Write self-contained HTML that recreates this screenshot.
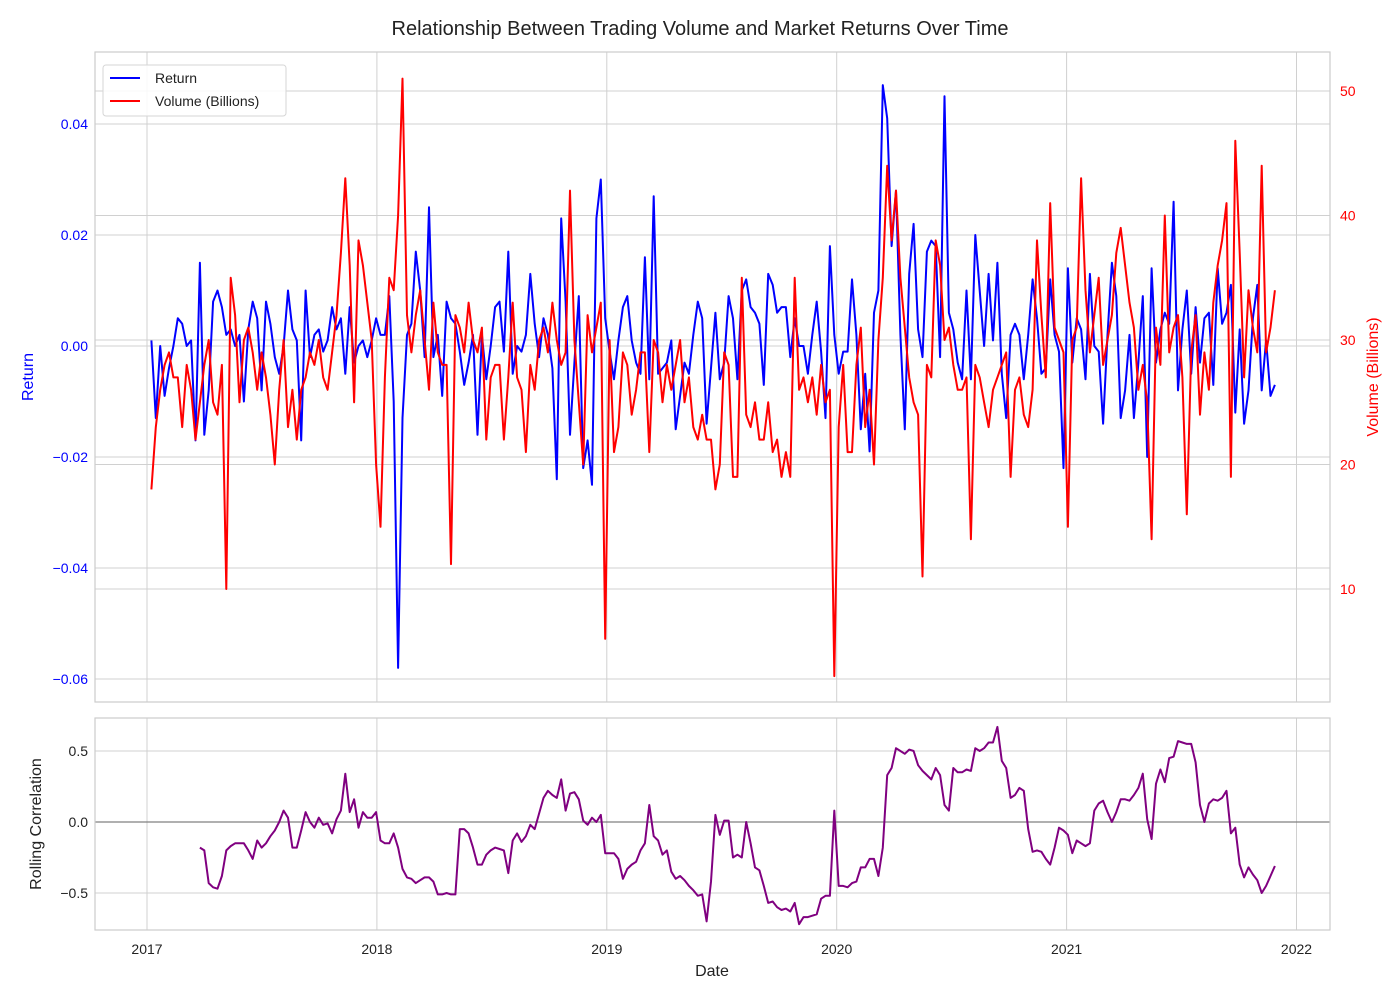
<!DOCTYPE html>
<html><head><meta charset="utf-8"><style>
body{margin:0;background:#fff;font-family:"Liberation Sans","DejaVu Sans",sans-serif}
svg text{font-family:"Liberation Sans","DejaVu Sans",sans-serif}
</style></head><body>
<svg id="chart" width="1400" height="1000" xmlns="http://www.w3.org/2000/svg">
<rect width="1400" height="1000" fill="#fff"/>
<text x="700" y="35" text-anchor="middle" font-size="20" fill="#222">Relationship Between Trading Volume and Market Returns Over Time</text>
<g id="topPanel"></g>
<g id="botPanel"></g>
</svg>
<script>
const returns=[0.001,-0.013,0,-0.009,-0.004,0,0.005,0.004,0,0.001,-0.017,0.015,-0.016,-0.008,0.008,0.010,0.007,0.002,0.003,0,0.002,-0.010,0.003,0.008,0.005,-0.008,0.008,0.004,-0.002,-0.005,0,0.010,0.003,0.001,-0.017,0.010,-0.002,0.002,0.003,-0.001,0.001,0.007,0.003,0.005,-0.005,0.007,-0.003,0,0.001,-0.002,0.001,0.005,
0.002,0.002,0.009,-0.01,-0.058,-0.013,0.002,0.004,0.017,0.010,-0.002,0.025,-0.002,0.002,-0.009,0.008,0.005,0.004,-0.001,-0.007,-0.003,0.002,-0.016,0.002,-0.006,0,0.007,0.008,-0.001,0.017,-0.005,0,-0.001,0.002,0.013,0.004,-0.002,0.005,0.002,-0.004,-0.024,0.023,0.008,-0.016,-0.003,0.009,-0.022,-0.017,-0.025,0.023,0.030,0.005,
-0.001,-0.006,0.001,0.007,0.009,0.001,-0.003,-0.005,0.016,-0.006,0.027,-0.005,-0.004,-0.003,0.001,-0.015,-0.009,-0.003,-0.005,0.002,0.008,0.005,-0.014,-0.004,0.006,-0.006,-0.003,0.009,0.005,-0.006,0.010,0.012,0.007,0.006,0.004,-0.007,0.013,0.011,0.006,0.007,0.007,-0.002,0.005,0,0,-0.005,0.002,0.008,-0.001,-0.013,0.018,0.002,
-0.005,-0.001,-0.001,0.012,0.002,-0.015,-0.005,-0.019,0.006,0.010,0.047,0.041,0.018,0.028,0.002,-0.015,0.013,0.022,0.003,-0.002,0.017,0.019,0.018,-0.002,0.045,0.006,0.003,-0.003,-0.006,0.010,-0.006,0.020,0.010,0,0.013,0.001,0.015,-0.005,-0.013,0.002,0.004,0.002,-0.006,0.002,0.012,0.005,-0.005,-0.004,0.012,0.002,-0.001,-0.022,
0.014,-0.003,0.005,0.003,-0.006,0.013,0,-0.001,-0.014,0.002,0.015,0.009,-0.013,-0.008,0.002,-0.013,-0.003,0.009,-0.020,0.014,-0.003,0.003,0.006,0.004,0.026,-0.008,0.003,0.010,-0.005,0.007,-0.003,0.005,0.006,-0.007,0.014,0.004,0.006,0.011,-0.012,0.003,-0.014,-0.008,0.005,0.011,-0.008,0.001,-0.009,-0.007];
const volume=[18,23,26,28,29,27,27,23,28,26,22,25,28,30,25,24,28,10,35,32,25,30,31,29,26,29,27,24,20,26,30,23,26,22,26,27,29,28,30,27,26,29,32,37,43,36,25,38,36,33,30,20,
15,27,35,34,40,51,32,29,32,34,30,26,33,29,28,28,12,32,31,29,33,30,29,31,22,27,28,28,22,27,33,27,26,21,28,26,30,31,29,33,30,28,29,42,30,25,20,32,29,31,33,6,
30,21,23,29,28,24,26,29,29,21,30,29,25,28,26,28,30,25,27,23,22,24,22,22,18,20,29,28,19,19,35,24,23,25,22,22,25,21,22,19,21,19,35,26,27,25,27,24,28,25,26,
3,23,28,21,21,28,31,23,26,20,30,35,44,38,42,35,31,27,25,24,11,28,27,38,36,30,31,28,26,26,27,14,28,27,25,23,26,27,28,29,19,26,27,24,23,26,38,32,27,41,31,30,29,15,30,
31,43,34,29,32,35,28,30,32,37,39,36,33,31,26,28,25,14,31,28,40,29,31,32,27,16,29,32,24,29,26,33,36,38,41,19,46,37,27,34,31,29,44,29,31,34];
const rollingCorr=[-0.18,-0.2,-0.43,-0.46,-0.47,-0.38,-0.2,-0.17,-0.15,-0.15,-0.15,-0.2,-0.26,-0.13,-0.18,-0.15,-0.1,-0.06,0,0.08,0.03,-0.18,-0.18,-0.06,0.07,0,-0.04,0.03,-0.02,-0.01,-0.08,0.02,0.08,0.34,0.07,0.16,-0.04,0.07,0.03,0.03,0.07,-0.13,-0.15,-0.15,-0.08,-0.18,-0.33,-0.39,-0.4,-0.43,-0.41,-0.39,-0.39,-0.42,-0.51,-0.51,-0.5,-0.51,-0.51,-0.05,-0.05,-0.08,-0.18,-0.3,-0.3,-0.23,-0.2,-0.18,-0.19,-0.2,-0.36,-0.13,-0.08,-0.14,-0.1,-0.02,-0.05,0.06,0.17,0.22,0.19,0.17,0.3,0.08,0.2,0.21,0.16,0.01,-0.02,0.03,0,0.05,-0.22,-0.22,-0.22,-0.26,-0.4,-0.33,-0.3,-0.28,-0.2,-0.15,0.12,-0.1,-0.13,-0.23,-0.2,-0.35,-0.4,-0.38,-0.41,-0.45,-0.48,-0.52,-0.51,-0.7,-0.42,0.05,-0.09,0.01,0.01,-0.25,-0.23,-0.25,0,-0.15,-0.32,-0.34,-0.45,-0.57,-0.56,-0.6,-0.62,-0.61,-0.63,-0.57,-0.72,-0.67,-0.67,-0.66,-0.65,-0.54,-0.52,-0.52,0.08,-0.45,-0.45,-0.46,-0.43,-0.42,-0.32,-0.32,-0.26,-0.26,-0.38,-0.18,0.33,0.38,0.52,0.5,0.48,0.51,0.5,0.4,0.36,0.33,0.3,0.38,0.33,0.12,0.08,0.38,0.35,0.35,0.37,0.36,0.52,0.5,0.52,0.56,0.56,0.67,0.43,0.38,0.17,0.19,0.24,0.22,-0.05,-0.21,-0.2,-0.21,-0.26,-0.3,-0.18,-0.04,-0.06,-0.09,-0.22,-0.13,-0.15,-0.17,-0.15,0.08,0.13,0.15,0.07,0,0.07,0.16,0.16,0.15,0.19,0.24,0.34,0.02,-0.12,0.27,0.37,0.28,0.45,0.46,0.57,0.56,0.55,0.55,0.42,0.12,0,0.13,0.16,0.15,0.17,0.22,-0.08,-0.04,-0.3,-0.39,-0.32,-0.37,-0.41,-0.5,-0.45,-0.38,-0.31];
const yearTicks=[2017,2018,2019,2020,2021,2022];
const returnTicks=[0.04,0.02,0,-0.02,-0.04,-0.06];
const returnTickLabels=["0.04","0.02","0.00","\u22120.02","\u22120.04","\u22120.06"];
const volumeTicks=[10,20,30,40,50];
const corrTicks=[0.5,0,-0.5];
const corrTickLabels=["0.5","0.0","\u22120.5"];

const NS="http://www.w3.org/2000/svg";
const L=95,R=1330,T1=52,B1=702,T2=718,B2=930;
function xOfYear(y){return 147+(y-2017)*229.9;}
function xOfIndex(i){return 147+(7+7*i)/365.25*229.9;}
function yRet(v){return 346-v*5550;}
function yVol(v){return 340-(v-30)*12.45;}
function yCorr(v){return 822-v*142;}
function mk(parent,tag,attrs,text){const e=document.createElementNS(NS,tag);for(const k in attrs)e.setAttribute(k,attrs[k]);if(text!==undefined)e.textContent=text;parent.appendChild(e);return e;}
const topG=document.getElementById('topPanel'),botG=document.getElementById('botPanel');
yearTicks.forEach((y)=>{
  [[topG,T1,B1],[botG,T2,B2]].forEach(([g,a,b])=>{const l=mk(g,'line',{x1:xOfYear(y),x2:xOfYear(y),y1:a,y2:b,stroke:'#d0d0d0','stroke-width':1});
  
  });
  const t=mk(botG,'text',{x:xOfYear(y),y:954,'text-anchor':'middle','font-size':14,fill:'#222'},String(y));
  
  
});
returnTicks.forEach((v,i)=>{
  const l=mk(topG,'line',{x1:L,x2:R,y1:yRet(v),y2:yRet(v),stroke:'#d0d0d0','stroke-width':1});
  
  
  const t=mk(topG,'text',{x:88,y:yRet(v)+5,'text-anchor':'end','font-size':14,fill:'#0000ff'},returnTickLabels[i]);
  
  
});
volumeTicks.forEach(v=>{
  const l=mk(topG,'line',{x1:L,x2:R,y1:yVol(v),y2:yVol(v),stroke:'#d0d0d0','stroke-width':1});
  
  
  const t=mk(topG,'text',{x:1340,y:yVol(v)+5,'text-anchor':'start','font-size':14,fill:'#ff0000'},String(v));
  
  
});
corrTicks.forEach((v,i)=>{
  const l=mk(botG,'line',{x1:L,x2:R,y1:yCorr(v),y2:yCorr(v),stroke:'#d0d0d0','stroke-width':1});
  
  
  const t=mk(botG,'text',{x:88,y:yCorr(v)+5,'text-anchor':'end','font-size':14,fill:'#222'},corrTickLabels[i]);
  
  
});
const z=mk(botG,'line',{x1:L,x2:R,y1:yCorr(0),y2:yCorr(0),stroke:'#808080','stroke-width':1.2});


const rp=mk(topG,'polyline',{points:returns.map((v,i)=>xOfIndex(i).toFixed(1)+','+yRet(v).toFixed(1)).join(' '),fill:'none',stroke:'#0000ff','stroke-width':2,'stroke-linejoin':'round'});


const vp=mk(topG,'polyline',{points:volume.slice(0,returns.length).map((v,i)=>xOfIndex(i).toFixed(1)+','+yVol(v).toFixed(1)).join(' '),fill:'none',stroke:'#ff0000','stroke-width':2,'stroke-linejoin':'round'});


const off=returns.length-rollingCorr.length;
const cp=mk(botG,'polyline',{points:rollingCorr.map((v,i)=>xOfIndex(i+off).toFixed(1)+','+yCorr(v).toFixed(1)).join(' '),fill:'none',stroke:'#800080','stroke-width':2,'stroke-linejoin':'round'});


[[topG,T1,B1],[botG,T2,B2]].forEach(([g,a,b])=>{const f=mk(g,'rect',{x:L,y:a,width:R-L,height:b-a,fill:'none',stroke:'#cccccc','stroke-width':1.2});

});
let t;
t=mk(topG,'text',{x:0,y:0,transform:'translate(33,377) rotate(-90)','text-anchor':'middle','font-size':16,fill:'#0000ff'},'Return');


t=mk(topG,'text',{x:0,y:0,transform:'translate(1378,377) rotate(-90)','text-anchor':'middle','font-size':16,fill:'#ff0000'},'Volume (Billions)');


t=mk(botG,'text',{x:0,y:0,transform:'translate(41,824) rotate(-90)','text-anchor':'middle','font-size':16,fill:'#222'},'Rolling Correlation');


t=mk(botG,'text',{x:712,y:976,'text-anchor':'middle','font-size':16,fill:'#222'},'Date');


const lg=mk(topG,'g',{});


mk(lg,'rect',{x:103,y:65,width:183,height:51,rx:3,fill:'#fff','fill-opacity':0.85,stroke:'#d6d6d6'});
[['Return','#0000ff',78],['Volume (Billions)','#ff0000',101]].forEach(([n,c,y])=>{
  const e=mk(lg,'g',{});
  
  
  mk(e,'line',{x1:110,x2:140,y1:y,y2:y,stroke:c,'stroke-width':2});
  mk(e,'text',{x:155,y:y+5,'font-size':14,fill:'#222'},n);
});
</script>
</body></html>
